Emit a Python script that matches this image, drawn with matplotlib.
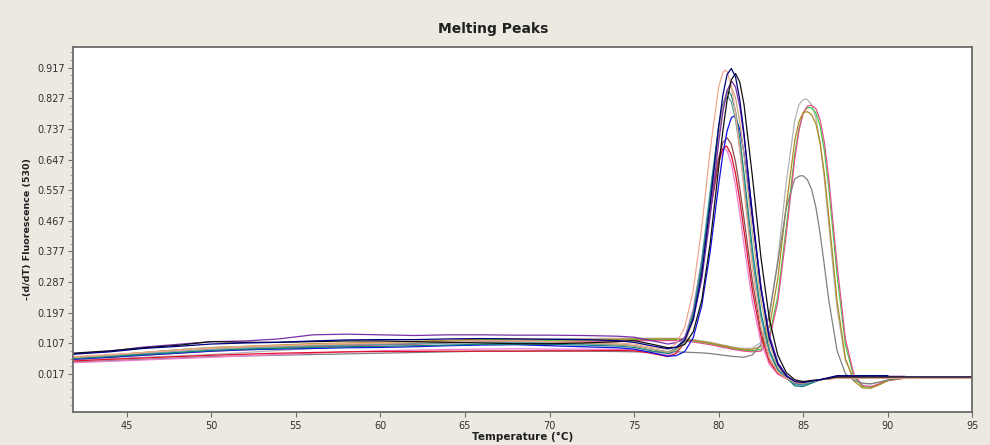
import numpy as np
import matplotlib
matplotlib.use('Agg')
import matplotlib.pyplot as plt
from matplotlib.ticker import FixedLocator, MultipleLocator

# shared temperature grid (°C) for every sample curve
TEMPS = [41.8, 44, 46, 48, 50, 52, 54, 56, 58, 60, 62, 64, 66, 68, 70, 72, 74, 75, 76,
         77, 77.5, 78, 78.5, 79, 79.5, 80,
         80.25, 80.5, 80.75, 81, 81.25, 81.5,
         82, 82.5, 83, 83.5, 84, 84.5,
         84.75, 85, 85.25, 85.5, 85.75, 86, 86.25, 86.5,
         87, 87.5, 88, 88.5, 89, 89.5, 90,
         91, 92, 93, 94, 95]

# -(d/dT) fluorescence, product 1 (Tm ~80.5)
NAVY = [.075, .082, .092, .098, .105, .108, .110, .114, .117, .118, .118, .120, .121, .120, .119, .118, .115, .110, .100,
        .091, .096, .116, .179, .311, .516, .743,
        .836, .897, .915, .890, .823, .724,
        .483, .266, .120, .045, .011, -.005,
        -.007, -.008, -.006, -.004, -.002, .000, .003, .006,
        .012, .012, .012, .012, .012, .012, .012,
        None, None, None, None, None]
BLACK = [.078, .085, .094, .101, .112, .110, .110, .112, .114, .114, .112, .110, .108, .106, .106, .108, .112, .115, .105,
         .094, .095, .104, .141, .233, .401, .623,
         .732, .822, .882, .900, .875, .809,
         .596, .360, .178, .072, .021, .000,
         -.003, -.005, -.004, -.002, -.001, .000, .002, .004,
         .008, .008, .008, .008, .008, .008, .008,
         .008, .008, .008, .008, .008]
SALMON = [.068, .074, .080, .086, .092, .096, .100, .104, .106, .108, .110, .112, .114, .114, .112, .110, .108, .105, .095,
          .090, .107, .155, .263, .447, .675, .860,
          .904, .906, .864, .783, .677, .557,
          .326, .157, .065, .022, .004, -.006,
          -.006, -.006, -.005, -.003, -.002, .000, .002, .003,
          .005, .005, .005, .005, .005, .005, .005,
          .005, .005, .005, .005, .005]
PURPLE = [.076, .084, .096, .104, .112, .114, .120, .132, .134, .132, .130, .132, .132, .131, .131, .130, .128, .125, .115,
          .105, .109, .124, .178, .294, .480, .697,
          .787, .850, .876, .860, .804, .715,
          .487, .274, .127, .049, .012, -.004,
          -.005, -.006, -.005, -.003, -.002, .000, .003, .005,
          .010, .010, .010, .010, .010, .010, .010,
          .010, None, None, None, None]
TAN = [.065, .072, .080, .088, .095, .098, .100, .103, .105, .107, .110, .113, .115, .114, .112, .108, .104, .100, .090,
       .081, .087, .109, .174, .308, .506, .719,
       .801, .851, .861, .829, .759, .662,
       .433, .233, .104, .038, .009, -.009,
       -.010, -.010, -.008, -.005, -.003, .000, .002, .003,
       .005, .005, .005, .005, .005, .005, .005,
       .005, .005, .005, .005, .005]
TEAL = [.062, .068, .074, .080, .086, .090, .092, .095, .097, .098, .100, .102, .104, .104, .104, .102, .099, .095, .085,
        .077, .085, .114, .189, .335, .539, .740,
        .810, .844, .837, .789, .710, .606,
        .382, .198, .086, .030, .007, -.018,
        -.019, -.020, -.015, -.010, -.005, .000, .002, .004,
        .008, .008, .008, .008, .008, .008, .008,
        .008, None, None, None, None]
CADET = [.064, .070, .077, .084, .090, .094, .097, .100, .102, .104, .106, .108, .110, .110, .108, .106, .103, .100, .090,
         .082, .092, .123, .202, .352, .554, .745,
         .806, .831, .817, .764, .679, .575,
         .355, .182, .079, .027, .006, -.014,
         -.015, -.015, -.012, -.008, -.004, .000, .002, .003,
         .006, .006, .006, .006, .006, .006, .006,
         .006, .006, None, None, None]
BLUE = [.060, .066, .072, .078, .084, .088, .090, .092, .094, .095, .097, .100, .102, .103, .100, .097, .094, .090, .080,
        .069, .071, .083, .124, .217, .376, .573,
        .663, .731, .770, .771, .736, .666,
        .472, .273, .130, .050, .014, -.012,
        -.014, -.015, -.012, -.008, -.004, .000, .002, .004,
        .008, .008, .008, .008, .008, .008, .008,
        .008, .008, .008, .008, .008]
BROWN = [.066, .072, .078, .086, .092, .095, .098, .101, .103, .104, .106, .110, .114, .114, .112, .108, .104, .100, .090,
         .082, .091, .120, .191, .323, .496, .651,
         .697, .711, .692, .640, .563, .473,
         .288, .145, .063, .022, .004, -.010,
         -.010, -.010, -.008, -.005, -.003, .000, .002, .003,
         .006, .006, .006, .006, .006, .006, .006,
         .006, .006, .006, .006, .006]
RED = [.055, .060, .064, .068, .072, .075, .078, .080, .082, .083, .083, .084, .084, .084, .085, .085, .086, .085, .078,
       .068, .078, .110, .187, .320, .493, .639,
       .679, .685, .660, .605, .528, .438,
       .261, .129, .053, .019, .004, -.010,
       -.010, -.010, -.008, -.005, -.003, .000, .002, .003,
       .006, .006, .006, .006, .006, .006, .006,
       .006, .006, .006, .006, .006]
PINK = [.050, .054, .058, .062, .066, .070, .074, .078, .082, .085, .087, .089, .090, .091, .090, .090, .089, .088, .080,
        .072, .086, .124, .210, .352, .523, .652,
        .679, .673, .636, .571, .489, .397,
        .229, .110, .045, .016, .003, -.006,
        -.006, -.006, -.005, -.003, -.002, .000, .001, .002,
        .004, .004, .004, .004, .004, .004, .004,
        .004, .004, .004, .004, .004]

# product 2 (Tm ~85.2)
LIGHT_GRAY = [.058, .062, .066, .070, .074, .080, .086, .092, .098, .104, .108, .112, .116, .118, .120, .121, .122, .122, .122,
              .122, .122, .120, .118, .114, .110, .105,
              .102, .100, .097, .095, .093, .092,
              .093, .110, .186, .354, .581, .762,
              .809, .823, .823, .809, .770, .697, .592, .463,
              .209, .056, .004, -.011, -.012, -.007, -.001,
              .005, .005, .005, .005, .005]
GREEN = [.062, .068, .074, .080, .086, .090, .094, .098, .102, .104, .106, .112, .118, .117, .116, .116, .117, .118, .118,
         .118, .118, .116, .114, .110, .106, .101,
         .098, .096, .093, .091, .089, .087,
         .086, .089, .128, .246, .448, .662,
         .738, .784, .800, .798, .784, .746, .674, .570,
         .310, .102, .008, -.020, -.022, -.013, -.002,
         .006, .006, .006, .006, .006]
HOT_PINK = [.060, .066, .072, .078, .084, .088, .092, .096, .100, .102, .104, .108, .112, .112, .112, .113, .114, .115, .115,
            .115, .115, .113, .111, .107, .103, .098,
            .095, .093, .090, .088, .086, .084,
            .082, .084, .119, .229, .428, .648,
            .732, .784, .804, .806, .797, .764, .698, .599,
            .340, .119, .015, -.017, -.020, -.012, -.002,
            .004, .004, .004, .004, .004]
OLIVE = [.066, .072, .080, .088, .094, .098, .102, .106, .108, .110, .113, .116, .120, .120, .118, .118, .119, .120, .120,
         .120, .120, .118, .116, .112, .108, .103,
         .100, .098, .095, .093, .091, .089,
         .089, .098, .155, .298, .511, .702,
         .759, .785, .788, .779, .753, .696, .606, .487,
         .234, .062, -.004, -.024, -.025, -.015, -.003,
         .005, .005, .005, .005, .005]
GRAY = [.052, .056, .060, .064, .068, .070, .072, .074, .076, .078, .080, .082, .084, .084, .084, .084, .083, .082, .082,
        .082, .082, .081, .080, .079, .077, .074,
        .072, .071, .069, .068, .067, .066,
        .073, .103, .193, .345, .506, .590,
        .598, .599, .588, .559, .507, .430, .337, .239,
        .086, .017, -.002, -.010, -.012, -.007, -.001,
        .005, .005, .005, .005, .005]

SAMPLES = [LIGHT_GRAY, GREEN, HOT_PINK, OLIVE, GRAY,
           PINK, RED, BROWN, BLUE, CADET, TEAL, TAN, PURPLE, SALMON, BLACK, NAVY]
COLORS = ['#b4b4b4', '#44cc44', '#e0508a', '#b08a1e', '#808080',
          '#f07cd0', '#e0102a', '#8b4a4a', '#1010e0', '#5fa0a0', '#138080', '#c8a878',
          '#7b2fa8', '#f0a890', '#101010', '#000080']
# melting temperature and peak height of each sample
PEAK_TM = [85.15, 85.4, 85.45, 85.25, 84.9,
           80.35, 80.45, 80.5, 80.9, 80.55, 80.6, 80.7, 80.8, 80.4, 81.0, 80.75]
PEAK_HEIGHT = [0.825, 0.800, 0.807, 0.788, 0.600,
               0.680, 0.687, 0.711, 0.775, 0.832, 0.846, 0.862, 0.876, 0.910, 0.900, 0.915]

Y_TICKS = [0.017, 0.107, 0.197, 0.287, 0.377, 0.467, 0.557, 0.647, 0.737, 0.827, 0.917]
X_TICKS = [45, 50, 55, 60, 65, 70, 75, 80, 85, 90, 95]

BG = '#ece9e1'
FRAME = '#6a6a6a'


def with_peak(temps, values, tm, height):
    t = np.array(temps, dtype=float)
    v = np.array(values, dtype=float)
    if np.any(np.isclose(t, tm)):
        return t, v
    i = np.searchsorted(t, tm)
    return np.insert(t, i, tm), np.insert(v, i, height)


def main():
    fig = plt.figure(figsize=(9.9, 4.45), dpi=100, facecolor=BG)
    ax = fig.add_axes([0.0734, 0.0748, 0.9087, 0.8203])
    ax.set_facecolor('white')

    for values, color, tm, height in zip(SAMPLES, COLORS, PEAK_TM, PEAK_HEIGHT):
        t, v = with_peak(TEMPS, values, tm, height)
        ax.plot(t, v, color=color, lw=0.9, solid_joinstyle='round')

    ax.set_xlim(41.8, 95)
    ax.set_ylim(-0.094, 0.979)

    ax.xaxis.set_major_locator(FixedLocator(X_TICKS))
    ax.yaxis.set_major_locator(FixedLocator(Y_TICKS))
    ax.yaxis.set_minor_locator(MultipleLocator(0.0225, offset=0.017))
    ax.set_yticklabels([f'{y:.3f}' for y in Y_TICKS])

    ax.tick_params(axis='both', which='major', direction='out', length=3.5, width=0.8,
                   color='#707070', labelsize=7, labelcolor='#303030', pad=2)
    ax.tick_params(axis='y', which='minor', direction='out', length=2, width=0.6, color='#909090')
    ax.tick_params(axis='x', pad=3)

    for spine in ax.spines.values():
        spine.set_color(FRAME)
        spine.set_linewidth(1.3)

    fig.text(0.498, 0.935, 'Melting Peaks', ha='center', va='center',
             fontsize=10, fontweight='bold', color='#202020')
    ax.set_xlabel('Temperature (°C)', fontsize=7.5, fontweight='bold', color='#202020', labelpad=1)
    ax.set_ylabel('-(d/dT) Fluorescence (530)', fontsize=6.8, fontweight='bold', color='#202020', labelpad=4)

    fig.savefig('out.png', dpi=100, facecolor=BG)


if __name__ == '__main__':
    main()
